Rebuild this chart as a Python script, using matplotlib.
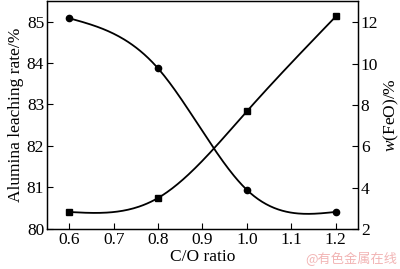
import numpy as np
import matplotlib
matplotlib.use('Agg')
import matplotlib.pyplot as plt

plt.rcParams['font.family'] = 'Liberation Serif'
plt.rcParams['mathtext.fontset'] = 'custom'
plt.rcParams['mathtext.it'] = 'Liberation Serif:italic'
plt.rcParams['mathtext.rm'] = 'Liberation Serif'

co_ratio = [0.6, 0.8, 1.0, 1.2]
alumina = [85.08, 83.87, 80.94, 80.41]
feo = [2.82, 3.50, 7.70, 12.29]
xticks = [0.6, 0.7, 0.8, 0.9, 1.0, 1.1, 1.2]


def spline(x, y, n=200):
    # natural cubic spline, just for the smooth connecting line
    x = np.asarray(x, float)
    y = np.asarray(y, float)
    k = len(x)
    h = np.diff(x)
    A = np.zeros((k, k))
    b = np.zeros(k)
    A[0, 0] = 1
    A[-1, -1] = 1
    for i in range(1, k - 1):
        A[i, i - 1] = h[i - 1]
        A[i, i] = 2 * (h[i - 1] + h[i])
        A[i, i + 1] = h[i]
        b[i] = 6 * ((y[i + 1] - y[i]) / h[i] - (y[i] - y[i - 1]) / h[i - 1])
    m = np.linalg.solve(A, b)
    xs = np.linspace(x[0], x[-1], n)
    ys = np.empty_like(xs)
    for j, xv in enumerate(xs):
        i = min(np.searchsorted(x, xv, side='right') - 1, k - 2)
        t = xv - x[i]
        hi = h[i]
        ys[j] = (m[i] * (x[i + 1] - xv) ** 3 / (6 * hi) + m[i + 1] * t ** 3 / (6 * hi)
                 + (y[i] / hi - m[i] * hi / 6) * (x[i + 1] - xv)
                 + (y[i + 1] / hi - m[i + 1] * hi / 6) * t)
    return xs, ys


fig = plt.figure(figsize=(4, 2.69), dpi=100)
ax = fig.add_axes([0.1175, 0.149, 0.7775, 0.848])
ax2 = ax.twinx()

xs, ys = spline(co_ratio, alumina)
ax.plot(xs, ys, color='black', lw=1.3)
ax.plot(co_ratio, alumina, 'o', color='black', ms=4.5)

xs, ys = spline(co_ratio, feo)
ax2.plot(xs, ys, color='black', lw=1.3)
ax2.plot(co_ratio, feo, 's', color='black', ms=3.8)

ax.set_xlim(0.55, 1.25)
ax.set_ylim(80, 85.5)
ax2.set_ylim(2, 13.05)
ax.set_xticks(xticks)
ax.set_xticklabels(['%.1f' % v for v in xticks])
ax.set_yticks([80, 81, 82, 83, 84, 85])
ax2.set_yticks([2, 4, 6, 8, 10, 12])

for a in (ax, ax2):
    a.tick_params(direction='in', length=4, width=0.8, labelsize=12.5, pad=2)
    for s in a.spines.values():
        s.set_linewidth(0.9)

ax.set_xlabel('C/O ratio', fontsize=12.5, labelpad=1)
ax.set_ylabel('Alumina leaching rate/%', fontsize=12.5, labelpad=2)
ax2.set_ylabel(r'$w$(FeO)/%', fontsize=12.5, rotation=90)
ax2.yaxis.set_label_coords(1.075, 0.5)

fig.text(0.992, 0.012, '@有色金属在线', fontsize=9.5, color='#f2b5b5',
         ha='right', va='bottom', family=['Noto Sans CJK SC', 'DejaVu Sans'])

fig.savefig('out.png', dpi=100)
